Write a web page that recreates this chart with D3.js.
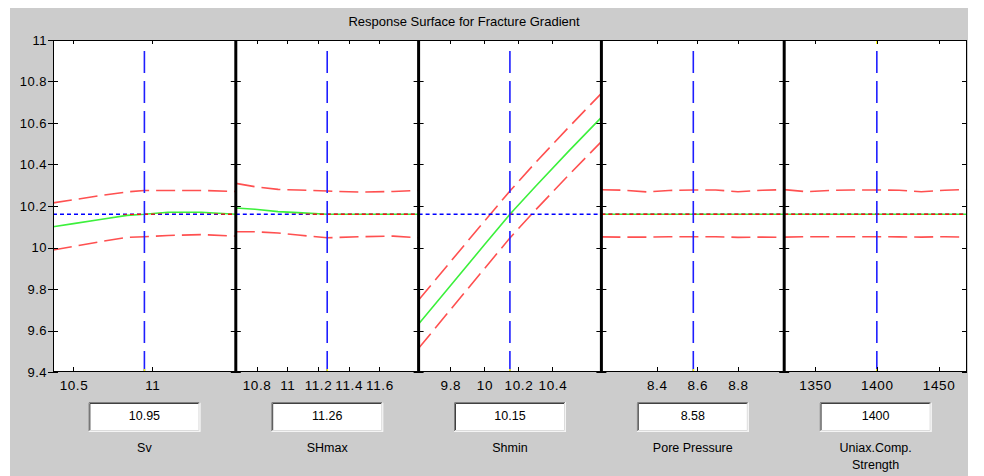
<!DOCTYPE html>
<html>
<head>
<meta charset="utf-8">
<script src="https://cdn.jsdelivr.net/npm/d3@7"></script>
<style>
  html, body { margin: 0; padding: 0; background: #ffffff; }
  svg { display: block; }
  text { font-family: "Liberation Sans", Arial, sans-serif; fill: #000; }
</style>
</head>
<body>
<svg id="chart" width="984" height="476"></svg>
<script>
// ---- data ----
const titleText = "Response Surface for Fracture Gradient";
const factorLabels = [["Sv"], ["SHmax"], ["Shmin"], ["Pore Pressure"], ["Uniax.Comp.", "Strength"]];
const currentValues = [10.95, 11.26, 10.15, 8.58, 1400];
const currentText = ["10.95", "11.26", "10.15", "8.58", "1400"];
const predictedValue = 10.16;
const yDomain = [9.4, 11];
const yTicks = [9.4, 9.6, 9.8, 10, 10.2, 10.4, 10.6, 10.8, 11];
const xDomains = [[10.37, 11.53], [10.665, 11.855], [9.613, 10.688], [8.127, 9.028], [1325, 1473]];
const xTicks = [[10.5, 11], [10.8, 11, 11.2, 11.4, 11.6], [9.8, 10, 10.2, 10.4], [8.4, 8.6, 8.8], [1350, 1400, 1450]];

const svX     = [10.37, 10.5, 10.67, 10.84, 10.95, 11.1, 11.31, 11.53];
const svFit   = [10.10, 10.115, 10.135, 10.155, 10.16, 10.17, 10.17, 10.16];
const svUpper = [10.215, 10.23, 10.25, 10.268, 10.275, 10.275, 10.275, 10.27];
const svLower = [9.988, 10.005, 10.028, 10.049, 10.052, 10.058, 10.062, 10.055];

const shmaxX     = [10.665, 10.79, 10.94, 11.07, 11.26, 11.48, 11.69, 11.855];
const shmaxFit   = [10.19, 10.184, 10.173, 10.168, 10.16, 10.16, 10.16, 10.16];
const shmaxUpper = [10.309, 10.293, 10.28, 10.277, 10.272, 10.267, 10.27, 10.275];
const shmaxLower = [10.076, 10.076, 10.07, 10.06, 10.047, 10.052, 10.055, 10.047];

const shminX     = [9.613, 9.8, 10.0, 10.15, 10.3, 10.5, 10.688];
const shminFit   = [9.631, 9.816, 10.013, 10.16, 10.294, 10.468, 10.627];
const shminUpper = [9.747, 9.931, 10.127, 10.272, 10.409, 10.583, 10.743];
const shminLower = [9.514, 9.7, 9.898, 10.046, 10.18, 10.353, 10.51];

const ppX     = [8.127, 8.24, 8.35, 8.46, 8.58, 8.69, 8.80, 8.92, 9.028];
const ppFit   = [10.16, 10.16, 10.16, 10.16, 10.16, 10.16, 10.16, 10.16, 10.16];
const ppUpper = [10.278, 10.276, 10.268, 10.275, 10.277, 10.277, 10.269, 10.276, 10.279];
const ppLower = [10.051, 10.05, 10.05, 10.052, 10.052, 10.052, 10.049, 10.05, 10.049];

const ucsX     = [1325, 1343, 1362, 1380, 1400, 1418, 1436, 1455, 1473];
const ucsFit   = [10.16, 10.16, 10.16, 10.16, 10.16, 10.16, 10.16, 10.16, 10.16];
const ucsUpper = [10.279, 10.269, 10.275, 10.277, 10.277, 10.276, 10.269, 10.276, 10.28];
const ucsLower = [10.05, 10.052, 10.052, 10.052, 10.052, 10.051, 10.05, 10.052, 10.05];

const panels = [
  { x: svX, fit: svFit, upper: svUpper, lower: svLower },
  { x: shmaxX, fit: shmaxFit, upper: shmaxUpper, lower: shmaxLower },
  { x: shminX, fit: shminFit, upper: shminUpper, lower: shminLower },
  { x: ppX, fit: ppFit, upper: ppUpper, lower: ppLower },
  { x: ucsX, fit: ucsFit, upper: ucsUpper, lower: ucsLower }
];

// ---- layout ----
const plotLeft = 53, plotRight = 967, plotTop = 40, plotBottom = 372;
const nPanels = panels.length;
const panelW = (plotRight - plotLeft) / nPanels;
const fontFamily = '"Liberation Sans", Arial, sans-serif';

const svg = d3.select("#chart");
svg.append("rect").attr("x", 10).attr("y", 8).attr("width", 958).attr("height", 468).attr("fill", "#cccccc");

svg.append("text").attr("x", 464).attr("y", 26).attr("text-anchor", "middle")
  .style("font-size", "13px").text(titleText);

const y = d3.scaleLinear().domain(yDomain).range([plotBottom, plotTop]);
const defs = svg.append("defs");

panels.forEach((p, i) => {
  const x0 = plotLeft + i * panelW, x1 = x0 + panelW;
  const x = d3.scaleLinear().domain(xDomains[i]).range([x0, x1]);
  const g = svg.append("g");

  defs.append("clipPath").attr("id", "clip" + i)
    .append("rect").attr("x", x0).attr("y", plotTop).attr("width", panelW).attr("height", plotBottom - plotTop);

  g.append("rect").attr("x", x0).attr("y", plotTop).attr("width", panelW).attr("height", plotBottom - plotTop).attr("fill", "#ffffff");

  const plot = g.append("g").attr("clip-path", `url(#clip${i})`);
  const line = d3.line().x((d, k) => x(p.x[k])).y(d => y(d));

  // confidence bounds
  [p.upper, p.lower].forEach(arr => {
    plot.append("path").attr("d", line(arr)).attr("fill", "none")
      .attr("stroke", "#ff5050").attr("stroke-width", 1.6).attr("stroke-dasharray", "19,7");
  });

  // reference level of the prediction
  plot.append("line").attr("x1", x0).attr("x2", x1).attr("y1", y(predictedValue)).attr("y2", y(predictedValue))
    .attr("stroke", "#0000ff").attr("stroke-width", 1.5).attr("stroke-dasharray", "4,3");

  // fitted response
  plot.append("path").attr("d", line(p.fit)).attr("fill", "none")
    .attr("stroke", "#3cf03c").attr("stroke-width", 1.6);

  // where the reference line runs along the fit it shows red
  const mask = defs.append("mask").attr("id", "fitMask" + i).attr("maskUnits", "userSpaceOnUse")
    .attr("x", x0).attr("y", plotTop).attr("width", panelW).attr("height", plotBottom - plotTop);
  mask.append("path").attr("d", line(p.fit)).attr("fill", "none").attr("stroke", "#ffffff").attr("stroke-width", 2.5);
  plot.append("line").attr("x1", x0).attr("x2", x1).attr("y1", y(predictedValue)).attr("y2", y(predictedValue))
    .attr("stroke", "#ff1010").attr("stroke-width", 1.5).attr("stroke-dasharray", "4,3")
    .attr("mask", `url(#fitMask${i})`);

  // current factor setting
  const cx = x(currentValues[i]);
  plot.append("line").attr("x1", cx).attr("x2", cx).attr("y1", plotTop + 11).attr("y2", plotBottom)
    .attr("stroke", "#1e1eff").attr("stroke-width", 1.6).attr("stroke-dasharray", "22,8");
  plot.append("line").attr("x1", cx).attr("x2", cx).attr("y1", plotBottom - 3).attr("y2", plotBottom)
    .attr("stroke", "#ffff00").attr("stroke-width", 1.5);
  if (i === nPanels - 1) {
    plot.append("line").attr("x1", cx).attr("x2", cx).attr("y1", plotTop).attr("y2", plotTop + 4)
      .attr("stroke", "#ffff00").attr("stroke-width", 1.5);
  }

  // x ticks, top and bottom, pointing inward
  xTicks[i].forEach(t => {
    const tx = Math.round(x(t)) + 0.5;
    g.append("line").attr("x1", tx).attr("x2", tx).attr("y1", plotBottom).attr("y2", plotBottom - 5).attr("stroke", "#000");
    g.append("line").attr("x1", tx).attr("x2", tx).attr("y1", plotTop).attr("y2", plotTop + 4).attr("stroke", "#000");
  });
  const xAxis = d3.axisBottom(x).tickValues(xTicks[i]).tickSize(0).tickPadding(0).tickFormat(d3.format("~g"));
  const ax = svg.append("g").attr("transform", `translate(0,${plotBottom + 18})`).call(xAxis);
  ax.select(".domain").remove();
  ax.selectAll("text").attr("dy", 0).style("font-size", "13.5px").style("font-family", fontFamily)
    .style("letter-spacing", "0.6px").attr("fill", "#000");

  // value box with sunken border
  const pc = (x0 + x1) / 2, bw = 112, bh = 30, by = 402;
  const bx = pc - bw / 2;
  svg.append("rect").attr("x", bx).attr("y", by).attr("width", bw).attr("height", bh).attr("fill", "#ffffff");
  svg.append("path").attr("d", `M${bx + 0.5},${by + bh}V${by + 0.5}H${bx + bw}`).attr("fill", "none").attr("stroke", "#808080");
  svg.append("path").attr("d", `M${bx + 1.5},${by + bh - 1}V${by + 1.5}H${bx + bw - 1}`).attr("fill", "none").attr("stroke", "#404040");
  svg.append("path").attr("d", `M${bx},${by + bh - 0.5}H${bx + bw - 0.5}V${by}`).attr("fill", "none").attr("stroke", "#f4f4f4");
  svg.append("path").attr("d", `M${bx + 1},${by + bh - 1.5}H${bx + bw - 1.5}V${by + 1}`).attr("fill", "none").attr("stroke", "#dcdcdc");
  svg.append("text").attr("x", pc).attr("y", by + 18).attr("text-anchor", "middle")
    .style("font-size", "12.5px").text(currentText[i]);

  factorLabels[i].forEach((s, k) => {
    svg.append("text").attr("x", pc).attr("y", 452 + k * 17).attr("text-anchor", "middle")
      .style("font-size", "12.5px").text(s);
  });
});

// y ticks on every panel edge
const edges = d3.range(nPanels + 1).map(k => plotLeft + k * panelW);
function tickLine(xa, xb, yy) {
  svg.append("line").attr("x1", xa).attr("x2", xb).attr("y1", yy).attr("y2", yy).attr("stroke", "#000");
}
yTicks.forEach(t => {
  const ty = Math.round(y(t)) + 0.5;
  edges.forEach((ex, k) => {
    const right = k === nPanels ? 0 : 5;
    tickLine(ex - 5, ex + right, ty);
  });
});

const yAxis = d3.axisLeft(y).tickValues(yTicks).tickSize(0).tickPadding(0).tickFormat(d3.format("~g"));
const ay = svg.append("g").attr("transform", `translate(${plotLeft - 6},0)`).call(yAxis);
ay.select(".domain").remove();
ay.selectAll("text").style("font-size", "13px").style("font-family", fontFamily)
  .style("letter-spacing", "0.5px").attr("fill", "#000");

// frame: thin outer border, heavy dividers between panels
svg.append("rect").attr("x", plotLeft + 0.5).attr("y", plotTop + 0.5)
  .attr("width", plotRight - plotLeft - 1).attr("height", plotBottom - plotTop - 1)
  .attr("fill", "none").attr("stroke", "#000");
edges.slice(1, -1).forEach(ex => {
  svg.append("line").attr("x1", ex).attr("x2", ex).attr("y1", plotTop).attr("y2", plotBottom)
    .attr("stroke", "#000").attr("stroke-width", 3);
});
</script>
</body>
</html>
